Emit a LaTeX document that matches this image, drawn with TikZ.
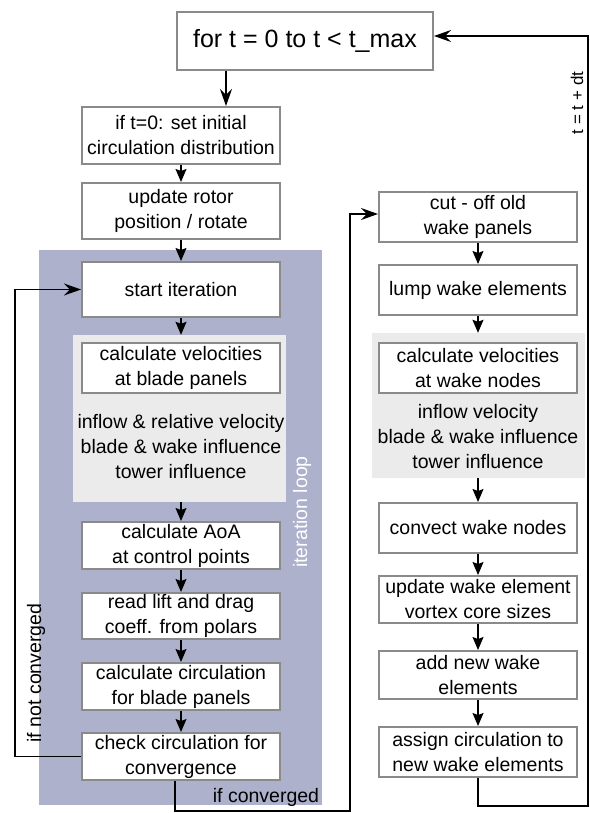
\documentclass[tikz,border=0pt]{standalone}
\usepackage{fontspec}
\setmainfont{Liberation Sans}
\usetikzlibrary{arrows.meta}
\definecolor{loopbg}{HTML}{AEB1CC}
\definecolor{panelbg}{HTML}{EBEBEB}
\definecolor{boxline}{HTML}{8A8A8A}
\begin{document}
\begin{tikzpicture}[x=1pt,y=-1pt,every node/.style={font=\fontsize{19.5}{25}\selectfont,align=center,inner sep=0pt},box/.style={draw=boxline,line width=2pt,fill=white,minimum width=198pt},panel/.style={fill=panelbg,draw=none},arrow/.style={-{Stealth[length=13pt,width=11pt,inset=2pt]},line width=1.2pt},loopline/.style={-{Stealth[length=17pt,width=12pt,inset=6pt]},line width=1.2pt}]
                \useasboundingbox (0,0) rectangle (589,813);
                \def\xl{181} %left column
                \def\xr{478} %right column
                \node[fill=loopbg,minimum width=283pt,minimum height=555pt] (iterbg) at (180.5,527.5) {};
                \node[panel,minimum width=213pt,minimum height=167pt] (bladepanel) at (179.5,418.5) {};
                \node[panel,minimum width=213pt,minimum height=145pt] (wakepanel) at (478.5,405.5) {};
                \node (bladetxt) at (\xl,447) {inflow \& relative velocity\\blade \& wake influence\\tower influence};
                \node (waketxt) at (\xr,437) {inflow velocity\\blade \& wake influence\\tower influence};
                \node[rotate=90,text=white] (looplabel) at (302,512) {iteration loop};
                \node[box,minimum width=256pt,minimum height=58pt,font=\fontsize{25}{30}\selectfont] (top) at (305,41) {for t = 0 to t < t\_max};
                \foreach \n/\y/\h/\mtext in {ift0/135.5/57/{if t=0: set initial\\circulation distribution},rotor/211/56/{update rotor\\position / rotate},start/289.5/55/{start iteration},velblade/368/50/{calculate velocities\\at blade panels},aoa/545.5/47/{calculate AoA\\at control points},lift/616/46/{read lift and drag\\coeff. from polars},circ/686.5/47/{calculate circulation\\for blade panels},check/756.5/47/{check circulation for\\convergence}}
                    \node[box,minimum height=\h pt] (\n) at (\xl,\y) {\mtext};
                \foreach \n/\y/\h/\mtext in {cutoff/217/50/{cut - off old\\wake panels},lump/290/50/{lump wake elements},velwake/368/50/{calculate velocities\\at wake nodes},convect/528/50/{convect wake nodes},updcore/599.5/47/{update wake element\\vortex core sizes},addnew/675/48/{add new wake\\elements},assign/752/50/{assign circulation to\\new wake elements}}
                    \node[box,minimum height=\h pt] (\n) at (\xr,\y) {\mtext};
                \foreach \a/\b in {ift0/rotor,rotor/start,aoa/lift,lift/circ,circ/check,cutoff/lump,convect/updcore,updcore/addnew,addnew/assign}
                    \draw[arrow] (\a.south) -- (\b.north);
                \draw[arrow] (start.south) -- (start.south |- bladepanel.north);
                \draw[arrow] (bladepanel.south -| aoa.north) -- (aoa.north);
                \draw[arrow] (lump.south) -- (lump.south |- wakepanel.north);
                \draw[arrow] (wakepanel.south -| convect.north) -- (convect.north);
                \draw[loopline] ([xshift=45pt]ift0.north |- top.south) -- ([xshift=45pt]ift0.north);
                \coordinate (rcorner) at (588,806);
                \coordinate (ncorner) at (15,756.5);
                \coordinate (ccorner) at (350,811);
                \draw[loopline] (assign.south) |- (rcorner) |- ([yshift=5pt]top.east);
                \draw[loopline] (check.west) -- (ncorner) |- (start.west);
                \draw[loopline] ([xshift=-6pt]check.south) |- (ccorner) |- ([yshift=3pt]cutoff.west);
                \node[rotate=90,font=\fontsize{17}{20}\selectfont] (dtlabel) at (577,103) {t = t + dt};
                \node[rotate=90] (nclabel) at (36,673) {if not converged};
                \node (clabel) at (266,797) {if converged};
            \end{tikzpicture}
\end{document}
